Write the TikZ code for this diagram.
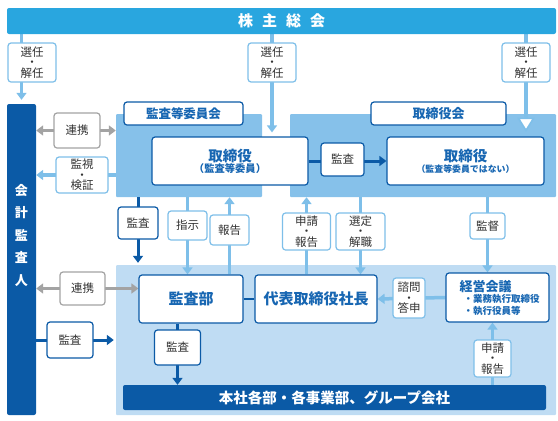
\documentclass[tikz,border=0pt]{standalone}
\usepackage{fontspec}
\setmainfont{Noto Sans CJK JP}
\usetikzlibrary{arrows.meta}
\definecolor{topblue}{HTML}{29A6DF}
\definecolor{dblue}{HTML}{0B5AA6}
\definecolor{lline}{HTML}{7EBFE9}
\definecolor{areaU}{HTML}{86C1EA}
\definecolor{areaL}{HTML}{BFDCF3}
\definecolor{grayc}{HTML}{A3A3A3}
\definecolor{tblue}{HTML}{1766B2}
\definecolor{txt}{HTML}{333333}
\pgfdeclarelayer{bg}
\pgfdeclarelayer{lines}
\pgfsetlayers{bg,lines,main}
\begin{document}
\begin{tikzpicture}[x=1pt,y=-1pt,
  box/.style={draw, fill=white, rounded corners=3pt, line width=1.2pt, inner sep=0pt, align=center, text=txt},
  lbox/.style={box, draw=lline},
  dbox/.style={box, draw=dblue},
  gbox/.style={box, draw=grayc},
  tbox/.style={box, draw=dblue, text=tblue},
  lab/.style={font=\fontsize{11.5}{10}\selectfont},
  lab3/.style={font=\fontsize{11.5}{10.5}\selectfont},
  area/.style={draw=none, inner sep=0pt, rounded corners=1pt},
  la/.style={draw=lline, line width=3.5pt, -{Triangle[width=10pt,length=7pt]}},
  da/.style={draw=dblue, line width=3pt, -{Triangle[width=10pt,length=7pt]}},
  ga/.style={draw=grayc, line width=3.5pt, {Triangle[width=10pt,length=7pt]}-{Triangle[width=10pt,length=7pt]}},
  hline/.style={draw=lline, line width=3.5pt},
  htip/.style={draw=lline, fill=white, line width=1.6pt, line join=miter}
]
\useasboundingbox (0,0) rectangle (558,421);

% areas
\begin{pgfonlayer}{bg}
\node[area, fill=areaU, minimum width=146pt, minimum height=83pt] (areaA) at (189,155.5) {};
\node[area, fill=areaU, minimum width=266pt, minimum height=83pt] (areaB) at (423,155.5) {};
\node[area, fill=areaL, minimum width=440pt, minimum height=150pt] (lower) at (336,340) {};
\end{pgfonlayer}

% bars
\node[area, fill=topblue, rounded corners=2pt, minimum width=549pt, minimum height=26pt, text=white,
  font=\fontsize{15}{15}\selectfont\bfseries] (gm) at (281.5,21) {株\hspace{9pt}主\hspace{9pt}総\hspace{9pt}会};
\node[area, fill=dblue, rounded corners=2pt, minimum width=29pt, minimum height=311pt] (aud) at (21.5,259.5) {};
\node[text=white, font=\fontsize{13}{22.5}\selectfont\bfseries, align=center, inner sep=0pt, anchor=north] (audtxt) at (21.5,184) {会\\計\\監\\査\\人};
\node[area, fill=dblue, rounded corners=2pt, minimum width=423pt, minimum height=25pt, text=white,
  font=\fontsize{14.5}{14.5}\selectfont\bfseries] (bar) at (334.5,397.5) {本社各部・各事業部、グループ会社};

% selection boxes
\node[lbox, lab3, minimum width=48pt, minimum height=39pt] (sel1) at (32,62.5) {選任\\・\\解任};
\node[lbox, lab3, minimum width=48pt, minimum height=39pt] (sel2) at (272,62.5) {選任\\・\\解任};
\node[lbox, lab3, minimum width=48pt, minimum height=39pt] (sel3) at (526,62.5) {選任\\・\\解任};

% labels of committees
\node[tbox, font=\fontsize{12.5}{12.5}\selectfont\bfseries, minimum width=119pt, minimum height=23pt] (lblA) at (183.5,113.5) {監査等委員会};
\node[tbox, font=\fontsize{13}{13}\selectfont\bfseries, minimum width=135pt, minimum height=23pt] (lblB) at (438.5,113.5) {取締役会};

% directors
\node[tbox, minimum width=156pt, minimum height=48pt] (dirA) at (230,161)
  {{\fontsize{14.5}{16}\selectfont\bfseries 取締役}\\[-1pt]{\fontsize{10.3}{12}\selectfont\bfseries（監査等委員）}};
\node[tbox, minimum width=157pt, minimum height=48pt] (dirB) at (465.5,161)
  {{\fontsize{14.5}{16}\selectfont\bfseries 取締役}\\[-1pt]{\fontsize{8.9}{11}\selectfont\bfseries（監査等委員ではない）}};
\node[dbox, lab, minimum width=43pt, minimum height=33pt] (audAB) at (342.5,159.5) {監査};

% left side
\node[gbox, lab, minimum width=46pt, minimum height=35pt] (renkei1) at (77,130.5) {連携};
\node[lbox, lab3, minimum width=52pt, minimum height=36pt] (kanshi) at (82,175) {監視\\・\\検証};
\node[gbox, lab, minimum width=45pt, minimum height=33pt] (renkei2) at (82.5,288.5) {連携};
\node[dbox, lab, minimum width=46pt, minimum height=36pt] (audL) at (70,340) {監査};

% middle row
\node[dbox, lab, minimum width=40pt, minimum height=32pt] (audA) at (138,223) {監査};
\node[lbox, lab, minimum width=39pt, minimum height=29pt] (shiji) at (187.5,225.5) {指示};
\node[lbox, lab, minimum width=39pt, minimum height=30pt] (hokoku) at (229.5,230) {報告};
\node[lbox, lab3, minimum width=48pt, minimum height=37pt] (shinsei1) at (306.5,231.5) {申請\\・\\報告};
\node[lbox, lab3, minimum width=49pt, minimum height=37pt] (sentei) at (360.5,231.5) {選定\\・\\解職};
\node[lbox, lab, minimum width=35pt, minimum height=26pt] (kantoku) at (487.5,226) {監督};

% lower row
\node[tbox, font=\fontsize{15}{15}\selectfont\bfseries, minimum width=104pt, minimum height=48pt] (kansabu) at (191,299) {監査部};
\node[tbox, font=\fontsize{15}{15}\selectfont\bfseries, minimum width=122pt, minimum height=48pt] (pres) at (316,299) {代表取締役社長};
\node[lbox, lab3, minimum width=32pt, minimum height=40pt] (shimon) at (409,298) {諮問\\・\\答申};
\node[tbox, minimum width=103pt, minimum height=49pt, align=left] (keiei) at (497.5,297.5)
  {{\fontsize{13}{15}\selectfont\bfseries\hspace{4pt}経営会議}\\[-1pt]{\fontsize{9.5}{11}\selectfont\bfseries\hspace{8pt}・業務執行取締役}\\{\fontsize{9.5}{11}\selectfont\bfseries\hspace{8pt}・執行役員等}};
\node[dbox, lab, minimum width=46pt, minimum height=35pt] (audK) at (177.5,347.5) {監査};
\node[lbox, lab3, minimum width=37pt, minimum height=37pt] (req2) at (492.5,358.5) {申請\\・\\報告};

% connectors
\begin{pgfonlayer}{lines}
\draw[la, shorten >=4pt] (gm.south -| aud) -- (aud.north);
\draw[la, shorten >=4pt] (gm.south -| sel2) -- (dirA.north -| sel2);
\draw[hline, shorten >=18pt] (gm.south -| sel3) -- (dirB.north -| sel3);
\draw[da] (dirA.east) -- (dirB.west);
\draw[ga] (aud.east |- renkei1) -- (areaA.west |- renkei1);
\draw[la] (areaA.west |- kanshi) -- (aud.east |- kanshi);
\draw[ga] (aud.east |- renkei2) -- (kansabu.west |- renkei2);
\draw[da, shorten >=2pt] (aud.east |- audL) -- (lower.west |- audL);
\draw[da, shorten >=2pt] (areaA.south -| audA) -- (lower.north -| audA);
\draw[la] (areaA.south -| shiji) -- (kansabu.north -| shiji);
\draw[la] (kansabu.north -| hokoku) -- (areaA.south -| hokoku);
\draw[la] (pres.north -| shinsei1) -- (areaB.south -| shinsei1);
\draw[la] (areaB.south -| sentei) -- (pres.north -| sentei);
\draw[la] (areaB.south -| kantoku) -- (keiei.north -| kantoku);
\draw[draw=dblue, line width=1.2pt] (kansabu.east) -- (pres.west);
\draw[la] (keiei.west) -- (pres.east);
\draw[da] (kansabu.south -| audK) -- (bar.north -| audK);
\draw[la] (bar.north -| req2) -- (keiei.south -| req2);
\end{pgfonlayer}
% hollow arrowhead into the board of directors
\draw[htip] ([yshift=6pt]dirB.north -| sel3) -- ++(-7.5,-12) -- ++(15,0) -- cycle;
\end{tikzpicture}
\end{document}
